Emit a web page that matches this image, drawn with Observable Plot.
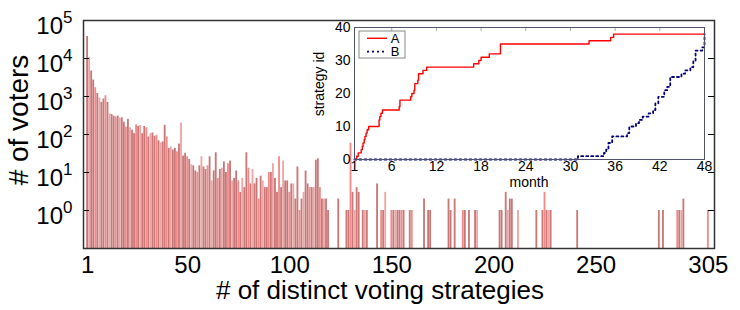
<!DOCTYPE html>
<html><head><meta charset="utf-8">
<script src="https://cdn.jsdelivr.net/npm/d3@7"></script>
<script src="https://cdn.jsdelivr.net/npm/@observablehq/plot@0.6"></script>
<style>
body{margin:0;background:#fff;}
#wrap{position:relative;width:740px;height:310px;overflow:hidden;}
#wrap svg{position:absolute;}
</style></head><body><div id="wrap"></div>
<script>
// number of voters for 1..120 distinct strategies
const countsHead = [
38000,10500,4700,2700,1700,1200,910,700,860,1050,
700,350,335,305,290,305,270,275,210,157,
250,150,130,105,180,163,173,105,163,150,
86,105,110,90,95,68,60,64,175,86,
43,47,39,43,35,56,200,27,32,26,
22,16,15,11,10,15,26,14,12,15,
26,6,11,33,7,12,13,19,10,17,
20,6,7,11,6,3,7,4,33,13,
5,12,5,7,2,8,6,4,4,10,
10,17,7,3,26,4,20,6,6,3,
5,5,2,14,1,2,3,11,5,4,
4,4,21,23,4,2,2,2,1,0];
// sparse tail
const tailIndex = [124,128,129,130,131,132,133,134,136,137,138,143,145,146,147,150,151,152,153,154,155,156,159,160,166,168,169,178,179,181,185,186,188,191,192,203,204,206,207,208,209,212,221,224,225,226,227,228,241,281,283,290,291,292,293,305];
const tailCount = [2,1,1,59,3,1,4,3,1,1,1,5,1,1,3,1,1,1,1,1,1,1,1,1,2,1,1,2,1,2,1,1,1,1,1,1,1,3,1,2,2,1,1,1,3,1,1,1,1,1,1,1,1,1,2,1];

const yTicks = [1,10,100,1000,10000,100000];
const xTicks = [1,50,100,150,200,250,305];

// inset
const monthTicks = [1,6,12,18,24,30,36,42,48];
const idTicks = [0,10,20,30,40];
const seriesNames = ["A","B"];
const aMonth = [1,1.3,1.5,1.9,2.05,2.15,2.3,2.4,2.55,2.7,2.9,4.3,4.4,4.55,4.75,7.0,7.1,8.55,8.7,9.0,9.1,9.35,9.5,9.6,10.2,10.7,17.0,17.7,18.0,19.1,20.6,32.5,35.4,35.8,48];
const aId    = [0,1,2,3,4,5,6,7,8,9,10,12,13,14,15,16,18,19,20,21,23,23,24,26,27,28,29,30,31,32,35,36,37,38,38];
const bMonth = [1,31,34.5,34.8,35.1,35.6,37.6,37.9,38.8,39.2,39.7,40.5,41.1,41.4,41.8,42.6,43.0,43.4,44.9,45.4,46.1,46.5,46.8,47.7,48];
const bId    = [0,1,2,3,5,7,8,10,11,12,13,14,15,17,19,21,22,25,26,27,28,30,33,34,38];

const FONT = "'Liberation Sans', Arial, Helvetica, sans-serif";

const bars = [];
countsHead.forEach((v,k)=>{ if (v>0) bars.push({i:k+1, v}); });
tailIndex.forEach((i,k)=>{ bars.push({i, v: tailCount[k]}); });

function barColor(i){
  const k = i % 5;
  if (k === 0) return "#f28a8a";
  if (k === 2) return "#eea5a5";
  return "#c97878";
}

const main = Plot.plot({
  width: 740, height: 310,
  marginLeft: 83, marginRight: 26, marginTop: 20, marginBottom: 62,
  style: {fontFamily: FONT, background: "transparent", color: "#000"},
  x: {domain: [-1, 308]},
  y: {type: "log", domain: [0.1, 1e5]},
  marks: [
    Plot.rect(bars, {x1: d => d.i - 0.45, x2: d => d.i + 0.45, y1: 0.1, y2: "v", fill: d => barColor(d.i)}),
    Plot.axisY(yTicks, {anchor: "left", tickSize: -6, tickPadding: 17, fontSize: 24, tickFormat: d => String(Math.round(Math.log10(d))), label: null}),
    Plot.axisY(yTicks, {anchor: "right", tickSize: -7, tickFormat: () => "", label: null}),
    Plot.axisX(xTicks, {anchor: "bottom", tickSize: 0, tickPadding: 7, fontSize: 24, label: null}),
    Plot.frame({stroke: "#333", strokeWidth: 1.5})
  ]
});
main.style.left = "0px"; main.style.top = "0px";

d3.select(main).selectAll('g[aria-label="y-axis tick label"] text').each(function(){
  const e = this.textContent;
  if (!e) return;
  this.textContent = "";
  const t = d3.select(this);
  t.append("tspan").attr("dy", 6).text("10");
  t.append("tspan").attr("dy", -11).attr("font-size", 17).text(e);
});
const ms = d3.select(main);
ms.append("text").attr("x", 380).attr("y", 299).attr("text-anchor", "middle")
  .attr("font-size", 26).attr("font-family", FONT).attr("fill", "#000")
  .text("# of distinct voting strategies");
ms.append("text").attr("transform", "translate(28,120) rotate(-90)").attr("text-anchor", "middle")
  .attr("font-size", 28).attr("font-family", FONT).attr("fill", "#000")
  .text("# of voters");

const A = aMonth.map((m,k)=>({month:m, id:aId[k], s:seriesNames[0]}));
const B = bMonth.map((m,k)=>({month:m, id:bId[k], s:seriesNames[1]}));

const inset = Plot.plot({
  width: 404, height: 172,
  marginLeft: 44, marginRight: 10, marginTop: 10, marginBottom: 30,
  style: {fontFamily: FONT, background: "transparent", color: "#000"},
  x: {domain: [1, 48]},
  y: {domain: [0, 40]},
  marks: [
    Plot.frame({fill: "white", stroke: null}),
    Plot.axisX(monthTicks, {anchor: "top", tickSize: -3, tickFormat: () => "", stroke: "#aaa", label: null}),
    Plot.axisX(monthTicks, {anchor: "bottom", tickSize: 0, tickPadding: 2, fontSize: 14, label: null}),
    Plot.axisY(idTicks, {anchor: "left", tickSize: 0, tickPadding: 4, fontSize: 14, label: null}),
    Plot.line(B, {x: "month", y: "id", stroke: "#00007a", strokeWidth: 1.8, strokeDasharray: "2,3", curve: "step-after"}),
    Plot.line(A, {x: "month", y: "id", stroke: "#ff0000", strokeWidth: 1.4, curve: "step-after"}),
    Plot.frame({stroke: "#505070", strokeWidth: 1})
  ]
});
inset.style.left = "310px"; inset.style.top = "17px";
const is = d3.select(inset);
is.append("text").attr("x", 219).attr("y", 170).attr("text-anchor", "middle")
  .attr("font-size", 14).attr("font-family", FONT).attr("fill", "#000").text("month");
is.append("text").attr("transform", "translate(14,67) rotate(-90)").attr("text-anchor", "middle")
  .attr("font-size", 14).attr("font-family", FONT).attr("fill", "#000").text("strategy id");
const lg = is.append("g");
lg.append("rect").attr("x", 49).attr("y", 14).attr("width", 46).attr("height", 27)
  .attr("fill", "white").attr("stroke", "#888").attr("stroke-width", 1);
lg.append("line").attr("x1", 57).attr("x2", 77).attr("y1", 21.3).attr("y2", 21.3)
  .attr("stroke", "#ff0000").attr("stroke-width", 1.4);
lg.append("line").attr("x1", 57).attr("x2", 77).attr("y1", 34.7).attr("y2", 34.7)
  .attr("stroke", "#00007a").attr("stroke-width", 1.8).attr("stroke-dasharray", "2,3");
lg.append("text").attr("x", 85).attr("y", 21.3).attr("dy", "0.35em").attr("font-size", 13)
  .attr("font-family", FONT).attr("fill", "#000").text(seriesNames[0]);
lg.append("text").attr("x", 85).attr("y", 34.7).attr("dy", "0.35em").attr("font-size", 13)
  .attr("font-family", FONT).attr("fill", "#000").text(seriesNames[1]);

const wrap = document.getElementById("wrap");
wrap.appendChild(main);
wrap.appendChild(inset);
</script>
</body></html>
